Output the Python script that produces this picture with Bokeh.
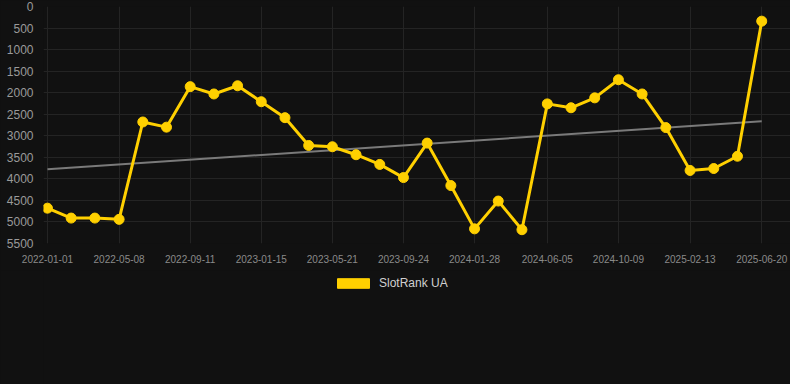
import numpy as np
import pandas as pd
from bokeh.plotting import figure
from bokeh.layouts import column
from bokeh.models import (ColumnDataSource, Range1d, FixedTicker, SingleIntervalTicker,
                          DatetimeTickFormatter, Legend, LegendItem)
from bokeh.embed import file_html
from bokeh.resources import INLINE

# ---- data ----
dates = ["2022-01-01", "2022-02-12", "2022-03-26", "2022-05-08", "2022-06-19", "2022-07-31",
         "2022-09-11", "2022-10-23", "2022-12-04", "2023-01-15", "2023-02-26", "2023-04-09",
         "2023-05-21", "2023-07-02", "2023-08-13", "2023-09-24", "2023-11-05", "2023-12-17",
         "2024-01-28", "2024-03-10", "2024-04-21", "2024-06-05", "2024-07-17", "2024-08-28",
         "2024-10-09", "2024-11-20", "2025-01-01", "2025-02-13", "2025-03-27", "2025-05-08",
         "2025-06-20"]
ranks = [4680, 4910, 4910, 4940, 2680, 2800, 1860, 2030, 1840, 2210, 2580, 3225,
         3255, 3440, 3665, 3970, 3170, 4155, 5160, 4515, 5180, 2260, 2350, 2120,
         1700, 2030, 2810, 3805, 3760, 3475, 340]
tick_labels = ["2022-01-01", "2022-05-08", "2022-09-11", "2023-01-15", "2023-05-21",
               "2023-09-24", "2024-01-28", "2024-06-05", "2024-10-09", "2025-02-13",
               "2025-06-20"]
series_name = "SlotRank UA"

YELLOW = "#ffd000"
BG = "#111111"
GRID = "#242424"

x = pd.to_datetime(dates)
src = ColumnDataSource(dict(x=x, y=ranks))

# linear trend
idx = np.arange(len(ranks))
k, b = np.polyfit(idx, np.array(ranks, dtype=float), 1)
trend = ColumnDataSource(dict(x=[x[0], x[-1]], y=[b, k * idx[-1] + b]))

x0 = x[0] - pd.Timedelta(days=7)
x1 = x[-1] + pd.Timedelta(days=51)

p = figure(frame_width=747, frame_height=237, x_axis_type="datetime",
           output_backend="svg", toolbar_location=None,
           y_range=Range1d(5500, 0),
           x_range=Range1d(x0, x1),
           background_fill_color=BG, border_fill_color=BG, outline_line_color=None,
           min_border_left=43, min_border_top=6, min_border_right=0, min_border_bottom=27)

p.line("x", "y", source=trend, line_color="#7a7a7a", line_width=2)
p.line("x", "y", source=src, line_color=YELLOW, line_width=3)
p.scatter("x", "y", source=src, size=10, fill_color=YELLOW, line_color=YELLOW)

tick_ms = [pd.Timestamp(t).value // 10**6 for t in tick_labels]
p.xaxis.ticker = FixedTicker(ticks=tick_ms)
fmt = "%Y-%m-%d"
p.xaxis.formatter = DatetimeTickFormatter(milliseconds=fmt, seconds=fmt, minsec=fmt, minutes=fmt,
                                          hourmin=fmt, hours=fmt, days=fmt, months=fmt, years=fmt)
p.yaxis.ticker = SingleIntervalTicker(interval=500)

for ax in (p.xaxis, p.yaxis):
    ax.axis_line_color = None
    ax.major_tick_line_color = None
    ax.minor_tick_line_color = None
    ax.major_tick_out = 0
    ax.major_label_text_font = "Liberation Sans"
p.yaxis.major_label_text_font_size = "12px"
p.yaxis.major_label_text_color = "#9a9a9a"
p.yaxis.major_label_standoff = 6
p.xaxis.major_label_text_font_size = "10px"
p.xaxis.major_label_text_color = "#8a8a8a"
p.xaxis.major_label_standoff = 11

p.xgrid.grid_line_color = GRID
p.ygrid.grid_line_color = GRID

# ---- legend strip below the chart ----
leg = figure(frame_width=747, frame_height=114, output_backend="svg", toolbar_location=None,
             x_range=Range1d(0, 1), y_range=Range1d(0, 1),
             background_fill_color=BG, border_fill_color=BG, outline_line_color=None,
             min_border_left=43, min_border_right=0, min_border_top=0, min_border_bottom=0)
leg.xaxis.visible = False
leg.yaxis.visible = False
leg.xgrid.visible = False
leg.ygrid.visible = False
sw = leg.quad(left=[2], right=[3], top=[3], bottom=[2], fill_color=YELLOW, line_color=YELLOW)

legend = Legend(items=[LegendItem(label=series_name, renderers=[sw])], location=(290, 94),
                orientation="horizontal", glyph_width=40, glyph_height=12, label_height=12,
                label_text_font="Liberation Sans", label_text_font_size="12px",
                label_text_color="#d0d0d0", label_standoff=6,
                background_fill_alpha=0, border_line_color=None, margin=0, padding=0)
leg.add_layout(legend)

layout = column(p, leg, spacing=0)
layout.styles = {"background-color": BG}

open("out.html", "w").write(file_html(layout, INLINE))
